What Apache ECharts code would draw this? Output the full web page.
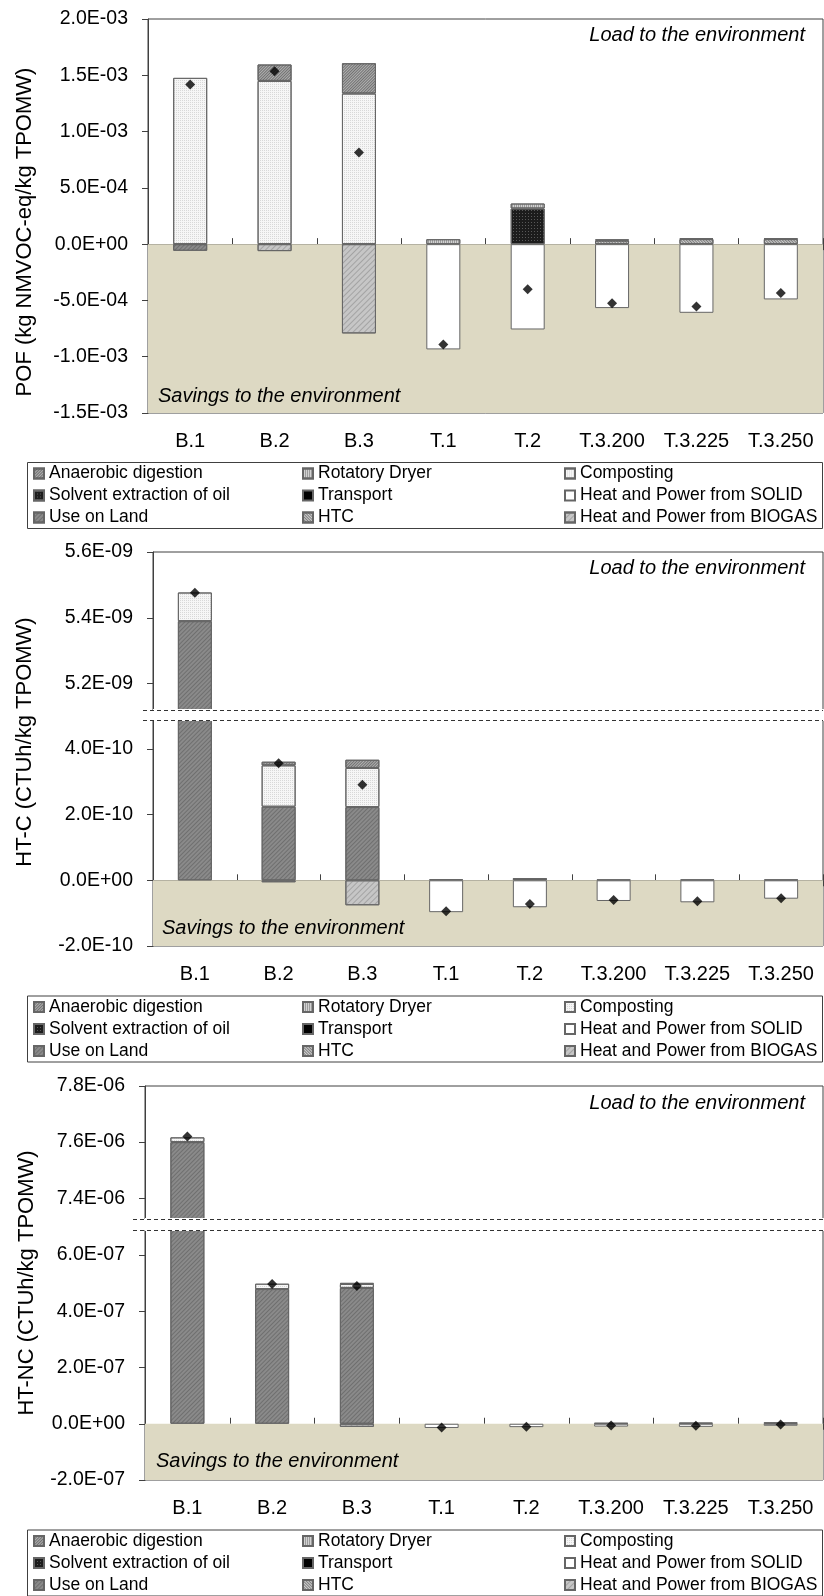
<!DOCTYPE html>
<html>
<head>
<meta charset="utf-8">
<script src="https://cdn.jsdelivr.net/npm/echarts@6/dist/echarts.min.js"></script>
<style>
  html, body { margin: 0; padding: 0; background: #ffffff; }
  #chart { width: 824px; height: 1596px; }
</style>
</head>
<body>
<div id="chart"></div>
<script>
// Scenarios on the category axis
const categories = ['B.1', 'B.2', 'B.3', 'T.1', 'T.2', 'T.3.200', 'T.3.225', 'T.3.250'];

// Process contributions, stacked in this order
const processes = ['Use on Land', 'Solvent extraction of oil', 'HTC', 'Composting', 'Anaerobic digestion',
  'Rotatory Dryer', 'Transport', 'Heat and Power from SOLID', 'Heat and Power from BIOGAS'];

// ---- POF (kg NMVOC-eq/kg TPOMW) ----
const pofUseOnLand   = [-0.059e-3, 0, 0, 0, 0, 0, 0, 0];
const pofSolvent     = [0, 0, 0, 0, 0.317e-3, 0, 0, 0];
const pofHTC         = [0, 0, 0, 0, 0, 0.032e-3, 0.045e-3, 0.045e-3];
const pofComposting  = [1.477e-3, 1.450e-3, 1.338e-3, 0, 0, 0, 0, 0];
const pofAnaerobic   = [0, 0.146e-3, 0.269e-3, 0, 0, 0, 0, 0];
const pofDryer       = [0, 0, 0, 0.044e-3, 0.044e-3, 0.010e-3, 0.008e-3, 0.008e-3];
const pofTransport   = [0, 0, 0, 0, 0, 0, 0, 0];
const pofHPSolid     = [0, 0, 0, -0.935e-3, -0.758e-3, -0.568e-3, -0.610e-3, -0.491e-3];
const pofHPBiogas    = [0, -0.062e-3, -0.793e-3, 0, 0, 0, 0, 0];
const pofNet         = [1.418e-3, 1.536e-3, 0.814e-3, -0.891e-3, -0.400e-3, -0.524e-3, -0.553e-3, -0.435e-3];
const pofTicks       = [-1.5e-3, -1.0e-3, -5.0e-4, 0, 5.0e-4, 1.0e-3, 1.5e-3, 2.0e-3];

// ---- HT-C (CTUh/kg TPOMW) ----
const htcUseOnLand   = [5.39e-9, 0.224e-9, 0.223e-9, 0, 0, 0, 0, 0];
const htcSolvent     = [0, 0, 0, 0, 0.007e-9, 0, 0, 0];
const htcHTC         = [0, 0, 0, 0, 0, 0.002e-9, 0.002e-9, 0.002e-9];
const htcComposting  = [0.087e-9, 0.126e-9, 0.119e-9, 0, 0, 0, 0, 0];
const htcAnaerobic   = [0, 0.011e-9, 0.025e-9, 0, 0, 0, 0, 0];
const htcDryer       = [0, 0, 0, 0.003e-9, 0, 0, 0, 0];
const htcTransport   = [0, 0, 0, 0, 0, 0, 0, 0];
const htcHPSolid     = [0, 0, 0, -0.097e-9, -0.082e-9, -0.063e-9, -0.067e-9, -0.056e-9];
const htcHPBiogas    = [0, -0.006e-9, -0.076e-9, 0, 0, 0, 0, 0];
const htcNet         = [5.476e-9, 0.356e-9, 0.291e-9, -0.094e-9, -0.072e-9, -0.060e-9, -0.064e-9, -0.055e-9];
const htcUpperTicks  = [5.2e-9, 5.4e-9, 5.6e-9];
const htcLowerTicks  = [-2.0e-10, 0, 2.0e-10, 4.0e-10];

// ---- HT-NC (CTUh/kg TPOMW) ----
const htncUseOnLand  = [7.60e-6, 0.479e-6, 0.483e-6, 0, 0, 0, 0, 0];
const htncSolvent    = [0, 0, 0, 0, 0, 0, 0, 0];
const htncHTC        = [0, 0, 0, 0, 0, 0.003e-6, 0.004e-6, 0.005e-6];
const htncComposting = [0.017e-6, 0.019e-6, 0.014e-6, 0, 0, 0, 0, 0];
const htncAnaerobic  = [0, 0, 0.004e-6, 0, 0, 0, 0, 0];
const htncDryer      = [0, 0, 0, 0, 0, 0, 0, 0];
const htncTransport  = [0, 0, 0, 0, 0, 0, 0, 0];
const htncHPSolid    = [0, 0, 0, -0.015e-6, -0.012e-6, -0.010e-6, -0.011e-6, -0.007e-6];
const htncHPBiogas   = [0, 0, -0.011e-6, 0, 0, 0, 0, 0];
const htncNet        = [7.62e-6, 0.497e-6, 0.490e-6, -0.013e-6, -0.011e-6, -0.006e-6, -0.007e-6, -0.003e-6];
const htncUpperTicks = [7.4e-6, 7.6e-6, 7.8e-6];
const htncLowerTicks = [-2.0e-7, 0, 2.0e-7, 4.0e-7, 6.0e-7];

// Legend columns (row-major reading order across three columns)
const legendColumns = [
  ['Anaerobic digestion', 'Solvent extraction of oil', 'Use on Land'],
  ['Rotatory Dryer', 'Transport', 'HTC'],
  ['Composting', 'Heat and Power from SOLID', 'Heat and Power from BIOGAS']
];

function byProcess(arrs) {
  const out = {};
  processes.forEach((p, i) => { out[p] = arrs[i]; });
  return out;
}

const FONT = '"Liberation Sans", Arial, Helvetica, sans-serif';
const AXIS = '#404040';

// Fill patterns for each process
const styles = {
  'Use on Land': { color: '#8a8a8a', decal: { symbol: 'rect', symbolSize: 1, dashArrayX: [1, 0], dashArrayY: [1, 2], rotation: -Math.PI / 4, color: 'rgba(60,60,60,0.35)' } },
  'Solvent extraction of oil': { color: '#1c1c1c', decal: { symbol: 'rect', symbolSize: 1, dashArrayX: [1, 2], dashArrayY: [1, 2], color: 'rgba(95,95,95,0.9)' } },
  'HTC': { color: '#d0d0d0', decal: { symbol: 'rect', symbolSize: 1, dashArrayX: [1, 0], dashArrayY: [1, 1], rotation: Math.PI / 4, color: 'rgba(70,70,70,0.6)' } },
  'Composting': { color: '#f6f6f6', decal: { symbol: 'rect', symbolSize: 1, dashArrayX: [1, 1], dashArrayY: [1, 1], color: 'rgba(160,160,160,0.35)' } },
  'Anaerobic digestion': { color: '#b0b0b0', decal: { symbol: 'rect', symbolSize: 1, dashArrayX: [1, 0], dashArrayY: [1, 1], rotation: -Math.PI / 4, color: 'rgba(50,50,50,0.5)' } },
  'Rotatory Dryer': { color: '#d2d2d2', decal: { symbol: 'rect', symbolSize: 1, dashArrayX: [1, 1], dashArrayY: [1, 0], color: 'rgba(120,120,120,0.6)' } },
  'Transport': { color: '#000000' },
  'Heat and Power from SOLID': { color: '#ffffff' },
  'Heat and Power from BIOGAS': { color: '#c6c6c6', decal: { symbol: 'rect', symbolSize: 1, dashArrayX: [1, 0], dashArrayY: [1, 3], rotation: -Math.PI / 4, color: 'rgba(140,140,140,0.6)' } }
};

const panels = [
  {
    values: byProcess([pofUseOnLand, pofSolvent, pofHTC, pofComposting, pofAnaerobic, pofDryer, pofTransport, pofHPSolid, pofHPBiogas]),
    net: pofNet,
    title: 'POF (kg NMVOC-eq/kg TPOMW)', titleX: 25, titleY: 232,
    left: 148,
    segments: [{ top: 19, height: 394, min: -1.5e-3, max: 2.0e-3, ticks: pofTicks, base: true }],
    loadY: 35, savingsX: 158, savingsY: 396, legendTop: 462.5
  },
  {
    values: byProcess([htcUseOnLand, htcSolvent, htcHTC, htcComposting, htcAnaerobic, htcDryer, htcTransport, htcHPSolid, htcHPBiogas]),
    net: htcNet,
    title: 'HT-C (CTUh/kg TPOMW)', titleX: 25, titleY: 742,
    left: 153,
    segments: [
      { top: 552, height: 158, min: 5.12e-9, max: 5.6e-9, ticks: htcUpperTicks, base: false },
      { top: 720, height: 226, min: -2.0e-10, max: 4.88e-10, ticks: htcLowerTicks, base: true }
    ],
    breakFrom: 143,
    loadY: 568, savingsX: 162, savingsY: 928, legendTop: 996
  },
  {
    values: byProcess([htncUseOnLand, htncSolvent, htncHTC, htncComposting, htncAnaerobic, htncDryer, htncTransport, htncHPSolid, htncHPBiogas]),
    net: htncNet,
    title: 'HT-NC (CTUh/kg TPOMW)', titleX: 27, titleY: 1283,
    left: 145,
    segments: [
      { top: 1086, height: 133, min: 7.326e-6, max: 7.8e-6, ticks: htncUpperTicks, base: false },
      { top: 1230, height: 250, min: -2.0e-7, max: 6.89e-7, ticks: htncLowerTicks, base: true }
    ],
    breakFrom: 133,
    loadY: 1103, savingsX: 156, savingsY: 1461, legendTop: 1530
  }
];

// Scientific labels such as 2.0E-03, 0.0E+00
function sci(v) {
  const s = Number(v).toExponential(1);
  const parts = s.split('e');
  const sign = parts[1][0];
  const digits = parts[1].slice(1).padStart(2, '0');
  return parts[0] + 'E' + sign + digits;
}

const option = {
  animation: false,
  backgroundColor: '#ffffff',
  grid: [], xAxis: [], yAxis: [], series: [], legend: [], graphic: []
};

function addSegment(seg, panel) {
  const gi = option.grid.length;
  option.grid.push({
    left: panel.left, right: 1, top: seg.top, height: seg.height,
    show: true, borderColor: AXIS, borderWidth: 1, backgroundColor: 'rgba(0,0,0,0)'
  });
  const yi = option.yAxis.length;
  option.yAxis.push({
    gridIndex: gi, type: 'value', min: seg.min, max: seg.max,
    splitLine: { show: false },
    axisLine: { show: true, onZero: false, lineStyle: { color: AXIS, width: 1 } },
    axisTick: { show: true, length: 6, customValues: seg.ticks, lineStyle: { color: AXIS } },
    axisLabel: { customValues: seg.ticks, formatter: sci, fontSize: 19.5, color: '#000', fontFamily: FONT, margin: 20 }
  });
  const xi = option.xAxis.length;
  if (seg.base) {
    // twin value axis, used only to anchor the inward tick marks on zero
    option.yAxis.push({ gridIndex: gi, type: 'value', min: seg.min, max: seg.max, show: false });
    option.xAxis.push({
      gridIndex: gi, type: 'category', data: categories, position: 'bottom',
      axisLine: { show: false, onZero: false }, axisTick: { show: false },
      axisLabel: { interval: 0, fontSize: 20, color: '#000', fontFamily: FONT, margin: 18 }
    });
    option.xAxis.push({
      gridIndex: gi, type: 'category', data: categories, position: 'bottom',
      axisLine: { show: true, onZero: true, lineStyle: { color: AXIS, width: 1 } },
      axisTick: { show: true, length: 6, lineStyle: { color: AXIS } },
      axisLabel: { show: false }
    });
    option.xAxis.push({
      gridIndex: gi, type: 'category', data: categories, position: 'bottom',
      axisLine: { show: false, onZero: true },
      axisTick: { show: true, inside: true, length: 6, lineStyle: { color: AXIS } },
      axisLabel: { show: false }
    });
    // shaded band below zero
    option.series.push({
      type: 'line', xAxisIndex: xi, yAxisIndex: yi, data: [], z: 0, silent: true,
      markArea: { silent: true, itemStyle: { color: '#DDD9C3' }, data: [[{ yAxis: 0 }, { yAxis: seg.min }]] }
    });
  } else {
    option.xAxis.push({ gridIndex: gi, type: 'category', data: categories, show: false });
  }
  processes.forEach(name => {
    option.series.push({
      type: 'bar', name: name, xAxisIndex: xi, yAxisIndex: yi, stack: 'g' + gi,
      barWidth: 34, z: 2,
      data: panel.values[name].map(v => (v === 0 ? '-' : v)),
      itemStyle: Object.assign({}, styles[name], { borderColor: '#666666', borderWidth: 1 })
    });
  });
  option.series.push({
    type: 'scatter', name: 'Net', xAxisIndex: xi, yAxisIndex: yi, z: 5,
    data: panel.net, symbol: 'diamond', symbolSize: 10,
    itemStyle: { color: '#000000' }
  });
}

const legendX = [33, 302, 564];

panels.forEach(panel => {
  panel.segments.forEach(seg => addSegment(seg, panel));

  // axis break markers
  if (panel.segments.length > 1) {
    const yBreaks = [panel.segments[0].top + panel.segments[0].height, panel.segments[1].top];
    yBreaks.forEach(y => {
      option.graphic.push({ type: 'line', z: 50, shape: { x1: panel.left, y1: y, x2: 824, y2: y }, style: { stroke: '#ffffff', lineWidth: 2 } });
      option.graphic.push({ type: 'line', z: 51, shape: { x1: panel.breakFrom, y1: y + 0.5, x2: 823, y2: y + 0.5 }, style: { stroke: '#333333', lineWidth: 1, lineDash: [4, 3] } });
    });
  }

  option.graphic.push({
    type: 'text', z: 60, x: 805, y: panel.loadY,
    style: { text: 'Load to the environment', font: 'italic 20px ' + FONT, fill: '#000', textAlign: 'right', textVerticalAlign: 'middle' }
  });
  option.graphic.push({
    type: 'text', z: 60, x: panel.savingsX, y: panel.savingsY,
    style: { text: 'Savings to the environment', font: 'italic 20px ' + FONT, fill: '#000', textAlign: 'left', textVerticalAlign: 'middle' }
  });
  option.graphic.push({
    type: 'text', z: 60, x: panel.titleX, y: panel.titleY, rotation: Math.PI / 2,
    style: { text: panel.title, font: '22px ' + FONT, fill: '#000', textAlign: 'center', textVerticalAlign: 'middle' }
  });

  // legend frame and three legend columns
  option.graphic.push({
    type: 'rect', z: 40, shape: { x: 27.5, y: panel.legendTop, width: 795, height: 66 },
    style: { fill: 'none', stroke: AXIS, lineWidth: 1 }
  });
  legendColumns.forEach((col, ci) => {
    option.legend.push({
      left: legendX[ci], top: panel.legendTop, orient: 'vertical', padding: 0, itemGap: 0,
      itemWidth: 10, itemHeight: 10, icon: 'rect', selectedMode: false, data: col,
      textStyle: { fontSize: 17.5, fontFamily: FONT, color: '#000', lineHeight: 22 }
    });
  });
});

const chart = echarts.init(document.getElementById('chart'), null, { renderer: 'canvas' });
chart.setOption(option);
</script>
</body>
</html>
